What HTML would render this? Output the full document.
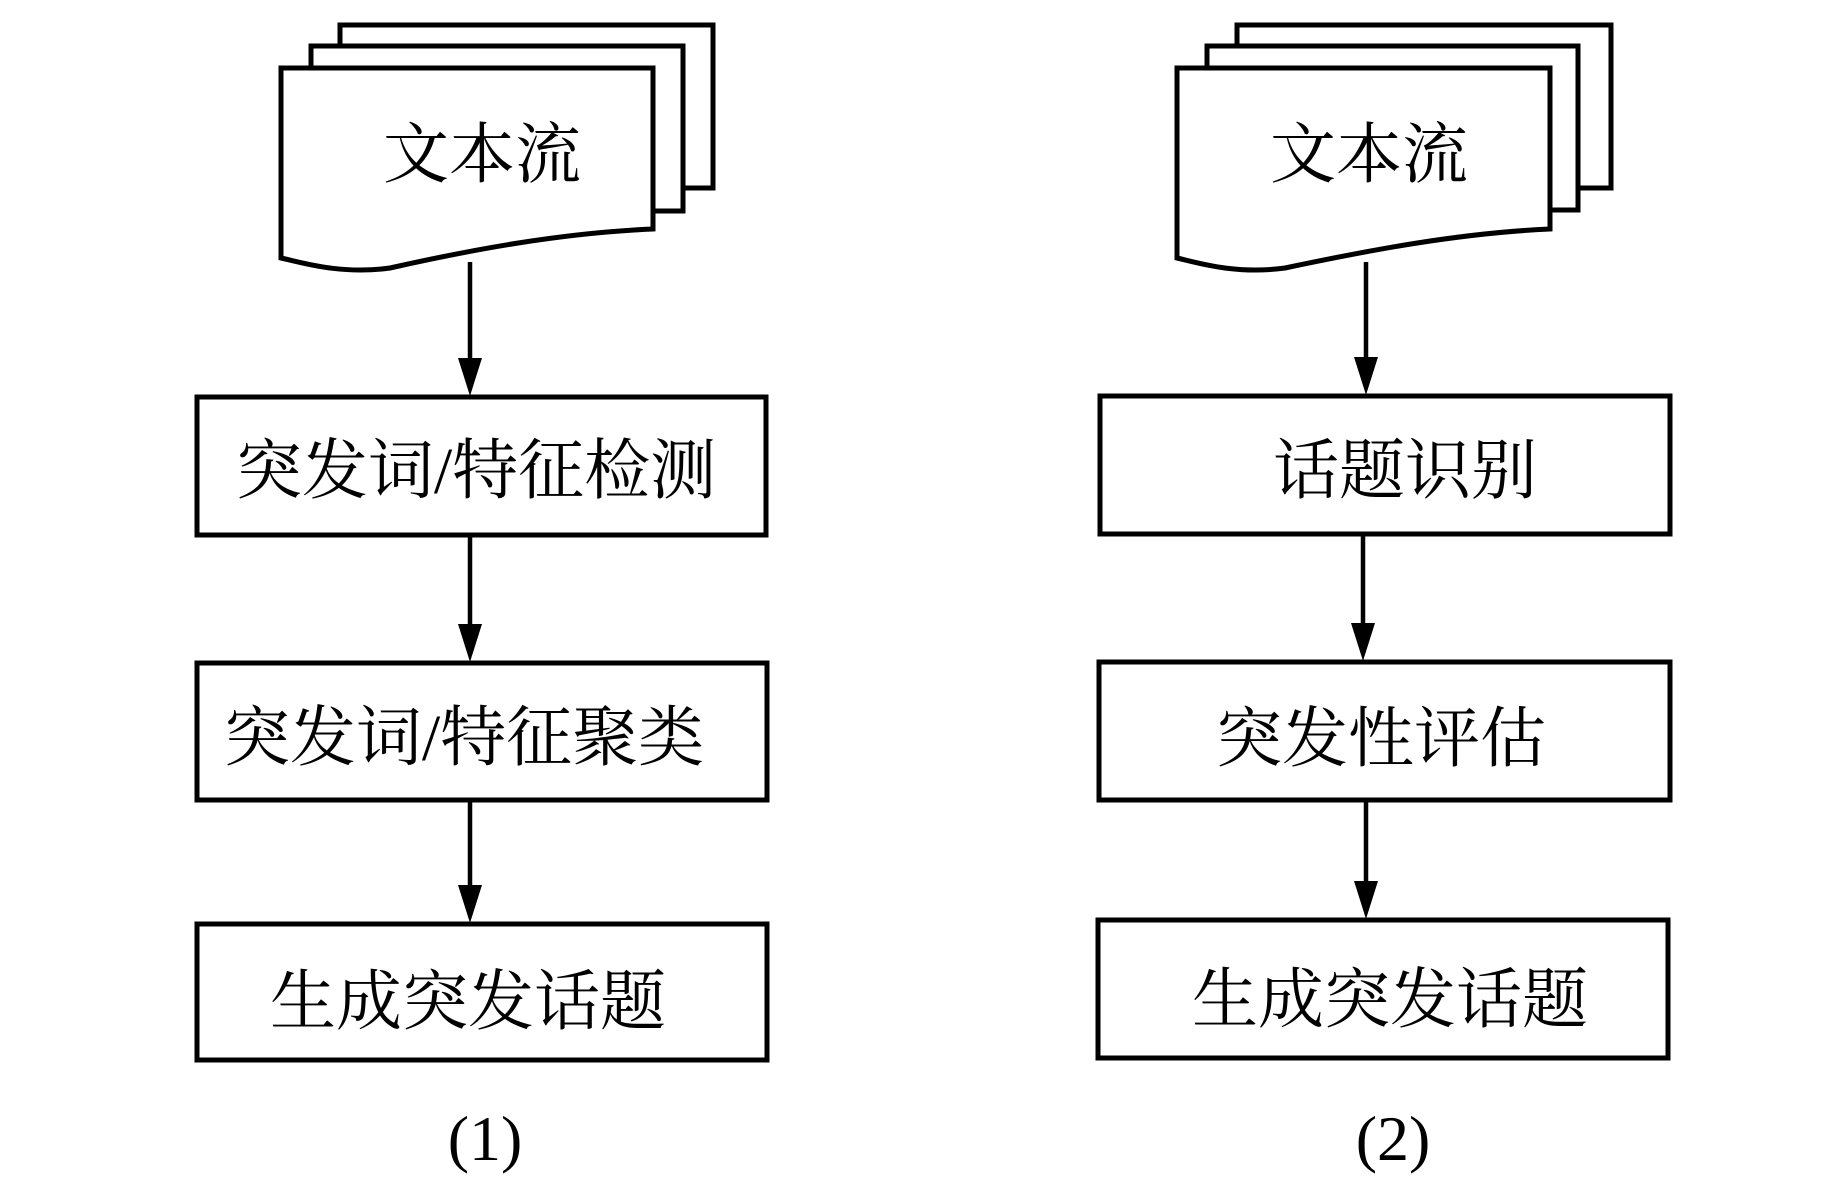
<!DOCTYPE html>
<html><head><meta charset="utf-8"><style>
html,body{margin:0;padding:0;background:#fff;}
svg{display:block;}
text{font-family:"Liberation Serif","Noto Serif CJK SC",serif;fill:#000;}
</style></head><body>
<svg width="1843" height="1181" viewBox="0 0 1843 1181" xmlns="http://www.w3.org/2000/svg">
<g stroke="#000" stroke-width="5" fill="#fff">
<rect x="340" y="25" width="373" height="163"/>
<rect x="311" y="46" width="372" height="165"/>
<path d="M281,68 H653 V229 C560,233 470,250 390,268 C340,275 300,262 281,258 Z"/>
<rect x="1237" y="25" width="374" height="163"/>
<rect x="1207" y="46" width="371" height="164"/>
<path d="M1177,68 H1550 V229 C1460,233 1370,250 1285,268 C1235,275 1195,262 1177,258 Z"/>
<rect x="197" y="397" width="569" height="138"/>
<rect x="197" y="663" width="570" height="137"/>
<rect x="197" y="924" width="570" height="136"/>
<rect x="1100" y="396" width="570" height="138"/>
<rect x="1099" y="662" width="571" height="138"/>
<rect x="1098" y="920" width="570" height="138"/>
</g>
<g stroke="#000" stroke-width="4.5">
<line x1="470" y1="262" x2="470" y2="370"/>
<line x1="470" y1="535" x2="470" y2="636"/>
<line x1="470" y1="800" x2="470" y2="897"/>
<line x1="1366" y1="262" x2="1366" y2="365"/>
<line x1="1363" y1="534" x2="1363" y2="635"/>
<line x1="1366" y1="800" x2="1366" y2="890"/>
</g>
<g fill="#000">
<path d="M458,358 L482,358 L470,396 Z"/>
<path d="M458,624 L482,624 L470,662 Z"/>
<path d="M458,885 L482,885 L470,923 Z"/>
<path d="M1354,357 L1378,357 L1366,395 Z"/>
<path d="M1351,623 L1375,623 L1363,661 Z"/>
<path d="M1354,881 L1378,881 L1366,919 Z"/>
</g>
<g font-size="66" text-anchor="middle">
<text x="482" y="177">文本流</text>
<text x="1369" y="177">文本流</text>
<text x="476" y="493">突发词/特征检测</text>
<text x="464" y="760">突发词/特征聚类</text>
<text x="468" y="1024">生成突发话题</text>
<text x="1405" y="493">话题识别</text>
<text x="1381" y="761">突发性评估</text>
<text x="1390" y="1022">生成突发话题</text>
</g>
<g font-size="64" text-anchor="middle">
<text x="485" y="1160">(1)</text>
<text x="1393" y="1160">(2)</text>
</g>
</svg>
</body></html>
